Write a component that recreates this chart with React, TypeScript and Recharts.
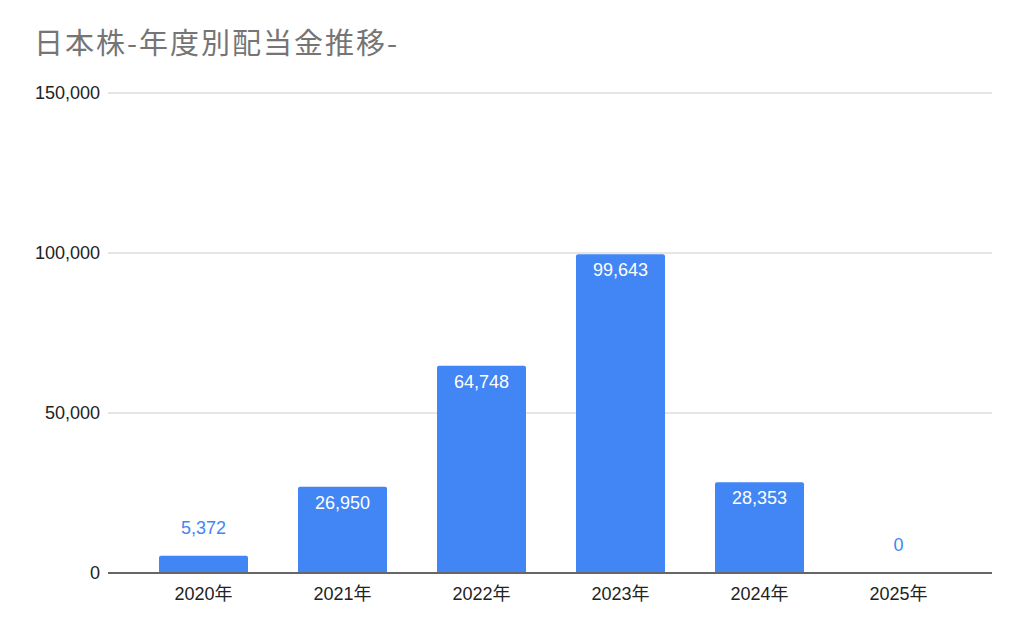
import React from 'react';
import { BarChart, Bar, XAxis, YAxis, CartesianGrid, LabelList } from 'recharts';

const years = ['2020年', '2021年', '2022年', '2023年', '2024年', '2025年'];
const dividends = [5372, 26950, 64748, 99643, 28353, 0];
const yTicks = [0, 50000, 100000, 150000];

const data = years.map((year, i) => ({ year, value: dividends[i] }));

const FONT = "'Liberation Sans', Arial, 'Noto Sans CJK JP', sans-serif";
const fmt = (v: number) => v.toLocaleString('en-US');

const BarValueLabel = (props: any) => {
  const { x, y, width, height, value } = props;
  const inside = height > 30;
  return (
    <text
      x={x + width / 2}
      y={inside ? y + 16 : y - 28}
      textAnchor="middle"
      dominantBaseline="central"
      fill={inside ? '#ffffff' : '#4285F4'}
      fontSize={18}
      fontFamily={FONT}
    >
      {fmt(value)}
    </text>
  );
};

export default function App() {
  return (
    <div style={{ position: 'absolute', left: 0, top: 0, width: 1024, height: 633, background: '#fff' }}>
      <div
        style={{
          position: 'absolute',
          left: 34,
          top: 24,
          fontSize: 29,
          letterSpacing: 2,
          color: '#757575',
          fontFamily: "'Noto Sans CJK JP', sans-serif",
          lineHeight: '34px',
        }}
      >
        日本株-年度別配当金推移-
      </div>
      <BarChart
        width={1024}
        height={633}
        data={data}
        margin={{ top: 93, right: 32, bottom: 30, left: 0 }}
      >
        <CartesianGrid vertical={false} stroke="#cccccc" />
        <XAxis
          dataKey="year"
          height={30}
          padding={{ left: 26, right: 24 }}
          tickLine={false}
          axisLine={{ stroke: '#666666', strokeWidth: 2 }}
          tick={{ fill: '#222222', fontSize: 18, fontFamily: FONT }}
          tickMargin={8}
        />
        <YAxis
          width={108}
          domain={[0, 150000]}
          ticks={yTicks}
          tickFormatter={fmt}
          axisLine={false}
          tickLine={false}
          tickSize={0}
          tickMargin={8}
          tick={{ fill: '#222222', fontSize: 18, fontFamily: FONT }}
        />
        <Bar
          dataKey="value"
          fill="#4285F4"
          barSize={89}
          radius={[2, 2, 0, 0]}
          minPointSize={(v: number) => (v === 0 ? 0.01 : 0)}
          isAnimationActive={false}
        >
          <LabelList dataKey="value" content={BarValueLabel} />
        </Bar>
      </BarChart>
    </div>
  );
}
